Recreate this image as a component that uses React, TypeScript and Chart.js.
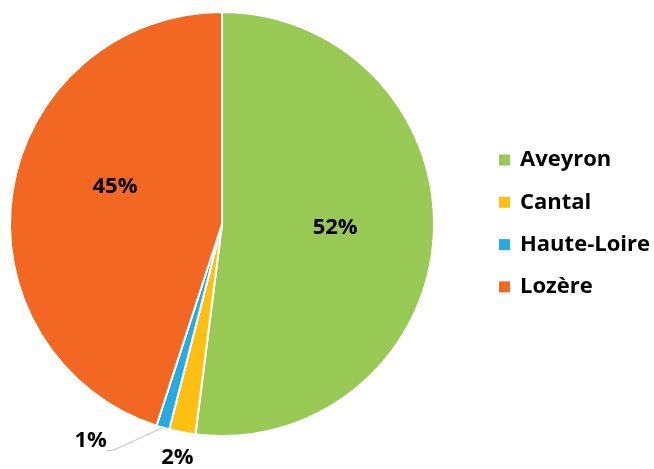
import React, { useEffect, useRef } from "react";
import { Chart, registerables } from "chart.js";

Chart.register(...registerables);

const categories = ["Aveyron", "Cantal", "Haute-Loire", "Lozère"];
const values = [52, 2, 1, 45];
const colors = ["#98C955", "#FDBF12", "#27AAE1", "#F26822"];

const FONT = "bold 22px 'Open Sans', Lato, sans-serif";

const labelPlugin = {
  id: "pieLabels",
  afterDatasetsDraw(chart: any) {
    const ctx = chart.ctx;
    const meta = chart.getDatasetMeta(0);
    const total = values.reduce((a, b) => a + b, 0);
    ctx.save();
    ctx.font = FONT;
    ctx.fillStyle = "#000";
    ctx.textBaseline = "middle";
    meta.data.forEach((arc: any, i: number) => {
      const { x, y, startAngle, endAngle, outerRadius } = arc.getProps(
        ["x", "y", "startAngle", "endAngle", "outerRadius"],
        true
      );
      const mid = (startAngle + endAngle) / 2;
      const pct = Math.round((values[i] / total) * 100) + "%";
      if (values[i] / total >= 0.1) {
        const d = outerRadius * 0.535;
        let a = mid;
        if (i === 3) a = mid + 0.18;
        ctx.textAlign = "center";
        ctx.fillText(pct, x + Math.cos(a) * d, y + Math.sin(a) * d + (i === 0 ? -3 : 0));
      } else if (i === 1) {
        const d = outerRadius + 26;
        ctx.textAlign = "center";
        ctx.fillText(pct, x + Math.cos(mid) * d, y + Math.sin(mid) * d);
      } else {
        const ex = x + Math.cos(mid) * outerRadius;
        const ey = y + Math.sin(mid) * outerRadius;
        const jx = ex - 50;
        const jy = ey + 23;
        ctx.strokeStyle = "#BFBFBF";
        ctx.lineWidth = 1;
        ctx.beginPath();
        ctx.moveTo(ex, ey);
        ctx.lineTo(jx, jy);
        ctx.lineTo(jx - 6, jy);
        ctx.stroke();
        ctx.textAlign = "right";
        ctx.fillText(pct, jx - 6, jy - 10);
      }
    });
    // legend
    const lx = 499;
    const ly0 = 160;
    const step = 42.3;
    categories.forEach((c, i) => {
      const cy = ly0 + i * step;
      ctx.fillStyle = colors[i];
      ctx.fillRect(lx, cy - 5.5, 11, 11);
      ctx.fillStyle = "#000";
      ctx.textAlign = "left";
      ctx.fillText(c, lx + 21, cy);
    });
    ctx.restore();
  },
};

export default function App() {
  const ref = useRef<HTMLCanvasElement | null>(null);
  useEffect(() => {
    document.body.style.margin = "0";
    const chart = new Chart(ref.current!, {
      type: "pie",
      data: {
        labels: categories,
        datasets: [
          {
            data: values,
            backgroundColor: colors,
            borderColor: "#ffffff",
            borderWidth: 2,
            hoverOffset: 0,
          },
        ],
      },
      options: {
        animation: false,
        responsive: false,
        events: [],
        layout: { padding: { left: 9, top: 11, right: 219, bottom: 32 } },
        plugins: { legend: { display: false }, tooltip: { enabled: false } },
      },
      plugins: [labelPlugin],
    });
    return () => chart.destroy();
  }, []);
  return (
    <div style={{ width: 654, height: 469, background: "#fff" }}>
      <canvas ref={ref} width={654} height={469} />
    </div>
  );
}
